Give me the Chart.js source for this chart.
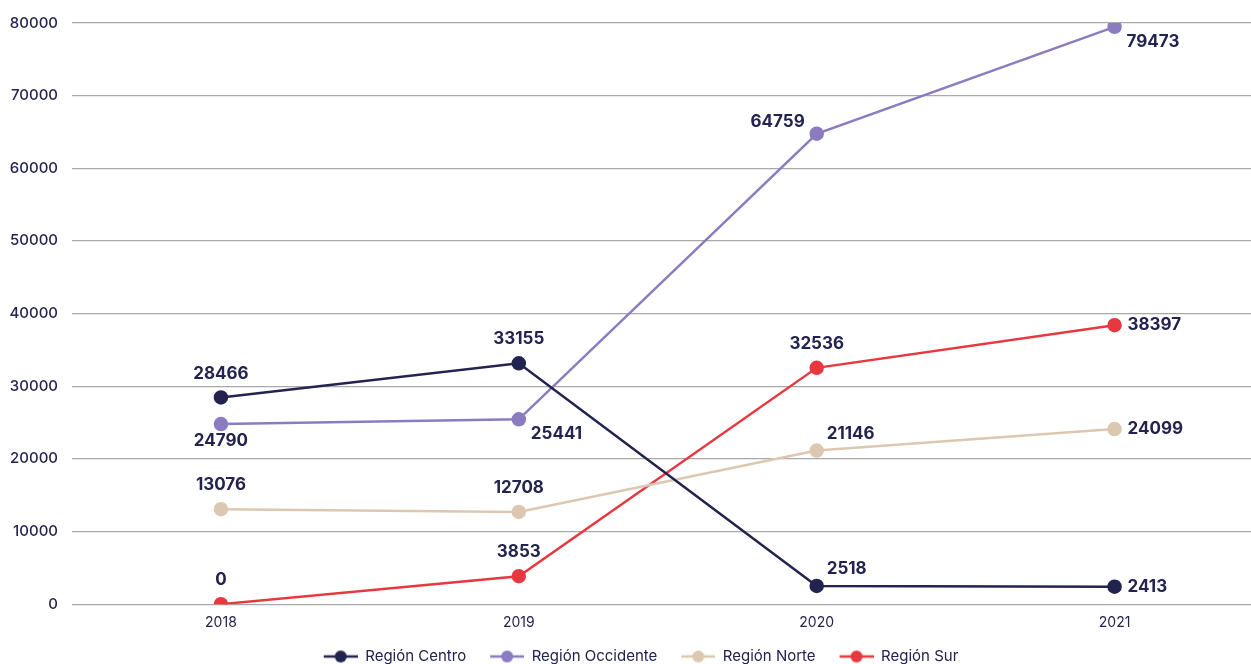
<!DOCTYPE html>
<html>
<head>
<meta charset="utf-8">
<script src="https://cdn.jsdelivr.net/npm/chart.js@4/dist/chart.umd.min.js"></script>
<style>
html, body { margin: 0; padding: 0; background: #fff; overflow: hidden; }
#wrap { width: 1272px; height: 664px; }
</style>
</head>
<body>
<div id="wrap"><canvas id="regionChart"></canvas></div>
<script>
const years = ["2018", "2019", "2020", "2021"];

const centro = [28466, 33155, 2518, 2413];
const occidente = [24790, 25441, 64759, 79473];
const norte = [13076, 12708, 21146, 24099];
const sur = [0, 3853, 32536, 38397];

// where each value label sits next to its point
const centroPos = ["top", "top", "topRight", "right"];
const occidentePos = ["bottom", "bottomRight", "topLeft", "bottomRight"];
const nortePos = ["top", "top", "topRight", "right"];
const surPos = ["top", "top", "top", "right"];

const navy = "#23234f";

// legend marker: line with a dot, left blank gives the gap between items
function legendIcon(color){
    const c = document.createElement("canvas");
    c.width = 50;
    c.height = 14;
    const g = c.getContext("2d");
    g.strokeStyle = color;
    g.lineWidth = 2.5;
    g.beginPath();
    g.moveTo(16, 7);
    g.lineTo(50, 7);
    g.stroke();
    g.fillStyle = color;
    g.beginPath();
    g.arc(33, 7, 6, 0, Math.PI * 2);
    g.fill();
    return c;
}

const valueLabels = {
    id: "valueLabels",
    afterDatasetsDraw(chart){
        const ctx = chart.ctx;
        ctx.save();
        ctx.font = "bold 17px Inter";
        ctx.fillStyle = navy;
        ctx.textBaseline = "middle";
        chart.data.datasets.forEach((ds, i) => {
            const meta = chart.getDatasetMeta(i);
            meta.data.forEach((pt, j) => {
                const pos = ds.labelPos[j];
                let dx = 0, dy = 0, align = "center";
                if(pos === "top"){ dy = -24; }
                else if(pos === "bottom"){ dy = 17; }
                else if(pos === "right"){ dx = 13; align = "left"; }
                else if(pos === "topRight"){ dx = 10; dy = -17; align = "left"; }
                else if(pos === "bottomRight"){ dx = 12; dy = 15; align = "left"; }
                else if(pos === "topLeft"){ dx = -12; dy = -12; align = "right"; }
                ctx.textAlign = align;
                ctx.fillText(String(ds.data[j]), pt.x + dx, pt.y + dy);
            });
        });
        ctx.restore();
    }
};

function makeSet(label, data, color, pos){
    return {
        label: label,
        data: data,
        labelPos: pos,
        borderColor: color,
        backgroundColor: color,
        pointBackgroundColor: color,
        pointBorderColor: color,
        borderWidth: 2.5,
        pointRadius: 6,
        pointHoverRadius: 6,
        tension: 0,
        icon: legendIcon(color)
    };
}

const ctx = document.getElementById("regionChart");

const chart = new Chart(ctx, {
    type: "line",
    data: {
        labels: years,
        datasets: [
            makeSet("Región Centro", centro, "#23234f", centroPos),
            makeSet("Región Occidente", occidente, "#8b7cc1", occidentePos),
            makeSet("Región Norte", norte, "#dcc8b0", nortePos),
            makeSet("Región Sur", sur, "#e8383f", surPos)
        ]
    },
    options: {
        responsive: true,
        maintainAspectRatio: false,
        animation: false,
        layout: { padding: { top: 14, left: 0, right: 0, bottom: 0 } },
        plugins: {
            tooltip: { enabled: false },
            legend: {
                position: "bottom",
                labels: {
                    color: navy,
                    font: { family: "Inter", size: 15 },
                    usePointStyle: true,
                    pointStyleWidth: 50,
                    padding: 8,
                    generateLabels(chart){
                        return chart.data.datasets.map((ds, i) => ({
                            text: ds.label,
                            pointStyle: ds.icon,
                            fontColor: navy,
                            datasetIndex: i,
                            hidden: false,
                            lineWidth: 0
                        }));
                    }
                }
            }
        },
        scales: {
            x: {
                offset: true,
                grid: { display: false, drawTicks: false },
                border: { display: false },
                ticks: { color: navy, font: { family: "Inter", size: 14 }, padding: 10 }
            },
            y: {
                min: 0,
                max: 80000,
                afterFit(scale){ scale.width = 72; },
                grid: { color: "#a9a9a9", lineWidth: 1.3, drawTicks: false },
                border: { display: false },
                ticks: {
                    stepSize: 10000,
                    color: navy,
                    font: { family: "Inter", size: 15, weight: "500" },
                    padding: 14,
                    callback: (v) => String(v)
                }
            }
        }
    },
    plugins: [valueLabels]
});

// keep the legend strip short while items stay widely spaced
const legendFit = chart.legend.fit;
chart.legend.fit = function(){
    legendFit.call(this);
    this.height = 23;
};
const legendDraw = chart.legend.draw;
chart.legend.draw = function(){
    this.ctx.save();
    this.ctx.translate(-3, 0);
    legendDraw.call(this);
    this.ctx.restore();
};
chart.update();
</script>
</body>
</html>
